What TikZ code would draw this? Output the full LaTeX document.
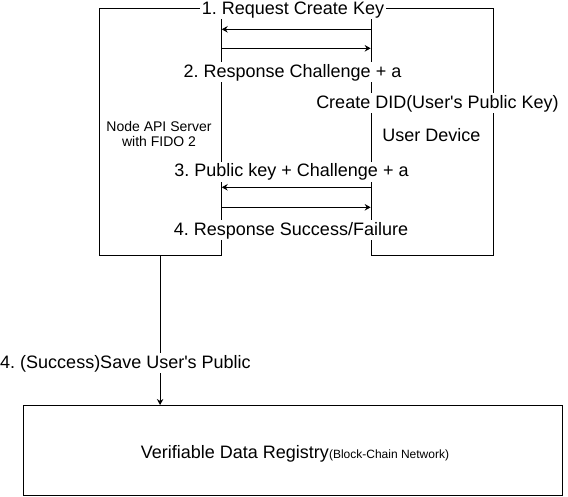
\documentclass[tikz,border=0pt]{standalone}
\usepackage{fontspec}
\setmainfont{Liberation Sans}
\usetikzlibrary{arrows.meta}
\frenchspacing
\begin{document}
\begin{tikzpicture}[x=1pt,y=-1pt,
  boxshape/.style={draw, line width=1pt, inner sep=0pt, anchor=north west},
  arr/.style={line width=1pt, -{Stealth[length=6pt,width=6.5pt]}},
  lbl/.style={fill=white, inner xsep=2pt, inner ysep=1pt, text height=14pt, text depth=4pt, anchor=base, font=\fontsize{18}{21}\selectfont},
  txt/.style={inner sep=0pt, anchor=base, font=\fontsize{18}{21}\selectfont},
  small/.style={inner sep=0pt, anchor=base, font=\fontsize{14}{16}\selectfont}]
\useasboundingbox (0,0) rectangle (568,496);
% boxes
\node[boxshape, minimum width=122.2pt, minimum height=246.7pt] (srv) at (98.5,8.3) {};
\node[boxshape, minimum width=122.3pt, minimum height=246.7pt] (dev) at (370.7,8.3) {};
\node[boxshape, minimum width=538.7pt, minimum height=90pt] (vdr) at (23.3,405) {};
% helper coordinates for message rows
\coordinate (r1) at (0,29.3);
\coordinate (r2) at (0,48.3);
\coordinate (r3) at (0,187.3);
\coordinate (r4) at (0,207.3);
% messages
\draw[arr] (dev.west |- r1) -- (srv.east |- r1);
\draw[arr] (srv.east |- r2) -- (dev.west |- r2);
\draw[arr] (dev.west |- r3) -- (srv.east |- r3);
\draw[arr] (srv.east |- r4) -- (dev.west |- r4);
\draw[arr] (srv.south) -- (srv.south |- vdr.north);
% labels
\node[lbl] (l1) at (293,14.2) {1. Request Create Key};
\node[lbl] (l2) at (292.5,77) {2. Response Challenge + a};
\node[lbl] (ldid) at (437.5,108) {Create DID(User\textquotesingle s Public Key)};
\node[lbl] (l3) at (291.5,176.7) {3. Public key + Challenge + a};
\node[lbl] (l4) at (291,235) {4. Response Success/Failure};
\node[lbl] (l5) at (125.5,368) {4. (Success)Save User\textquotesingle s Public};
\node[small] (srvt1) at (159,131.7) {Node API Server};
\node[small] (srvt2) at (159,146.5) {with FIDO 2};
\node[txt] (devt) at (431.5,141.7) {User Device};
\node[txt] (vdrt) at (295,458) {Verifiable Data Registry{\fontsize{12}{14}\selectfont(Block-Chain Network)}};
\end{tikzpicture}
\end{document}
